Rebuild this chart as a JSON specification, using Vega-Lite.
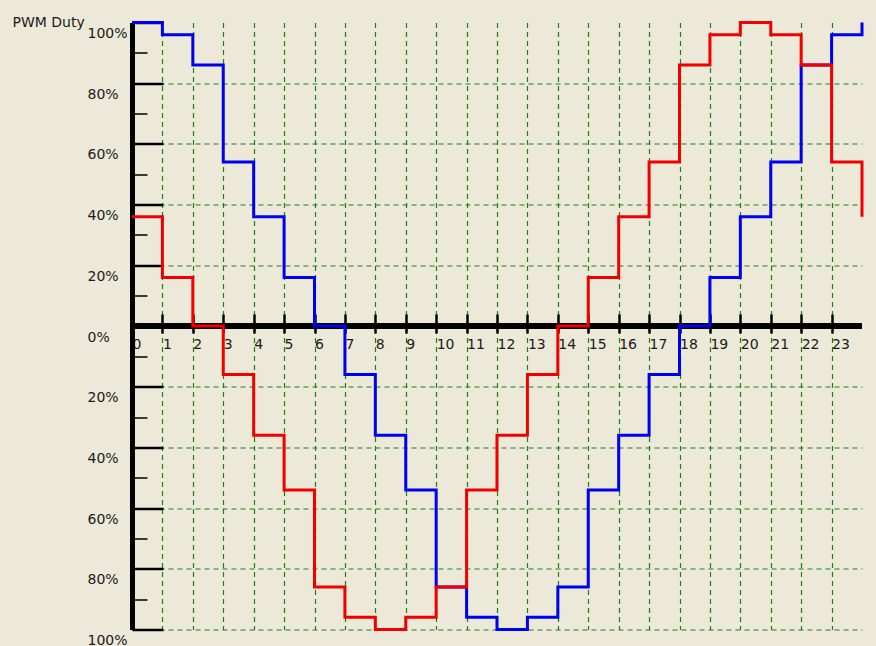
{
  "$schema": "https://vega.github.io/schema/vega-lite/v6.json",
  "autosize": {"type": "none"},
  "padding": {"left": 132, "top": 22.5, "right": 14, "bottom": 16.5},
  "width": 730,
  "height": 607,
  "background": "#ECE9D8",
  "config": {
    "view": {"stroke": null},
    "font": "DejaVu Sans",
    "axis": {"labelFont": "DejaVu Sans", "titleFont": "DejaVu Sans"}
  },
  "datasets": {
    "blue": [
      {"step": 0, "duty": 100}, {"step": 1, "duty": 96}, {"step": 2, "duty": 86}, {"step": 3, "duty": 54},
      {"step": 4, "duty": 36}, {"step": 5, "duty": 16}, {"step": 6, "duty": 0}, {"step": 7, "duty": -16},
      {"step": 8, "duty": -36}, {"step": 9, "duty": -54}, {"step": 10, "duty": -86}, {"step": 11, "duty": -96},
      {"step": 12, "duty": -100}, {"step": 13, "duty": -96}, {"step": 14, "duty": -86}, {"step": 15, "duty": -54},
      {"step": 16, "duty": -36}, {"step": 17, "duty": -16}, {"step": 18, "duty": 0}, {"step": 19, "duty": 16},
      {"step": 20, "duty": 36}, {"step": 21, "duty": 54}, {"step": 22, "duty": 86}, {"step": 23, "duty": 96},
      {"step": 24, "duty": 100}
    ],
    "red": [
      {"step": 0, "duty": 36}, {"step": 1, "duty": 16}, {"step": 2, "duty": 0}, {"step": 3, "duty": -16},
      {"step": 4, "duty": -36}, {"step": 5, "duty": -54}, {"step": 6, "duty": -86}, {"step": 7, "duty": -96},
      {"step": 8, "duty": -100}, {"step": 9, "duty": -96}, {"step": 10, "duty": -86}, {"step": 11, "duty": -54},
      {"step": 12, "duty": -36}, {"step": 13, "duty": -16}, {"step": 14, "duty": 0}, {"step": 15, "duty": 16},
      {"step": 16, "duty": 36}, {"step": 17, "duty": 54}, {"step": 18, "duty": 86}, {"step": 19, "duty": 96},
      {"step": 20, "duty": 100}, {"step": 21, "duty": 96}, {"step": 22, "duty": 86}, {"step": 23, "duty": 54},
      {"step": 24, "duty": 36}
    ]
  },
  "resolve": {"axis": {"x": "independent", "y": "independent"}},
  "layer": [
    {
      "data": {"name": "blue"},
      "mark": {"type": "rule", "color": "#000000", "strokeWidth": 5},
      "encoding": {
        "y": {"datum": 0, "type": "quantitative", "scale": {"domain": [-100, 100], "nice": false, "zero": false}, "axis": null}
      }
    },
    {
      "data": {"name": "blue"},
      "mark": {"type": "line", "interpolate": "step-after", "color": "#0000f0", "strokeWidth": 3},
      "encoding": {
        "x": {
          "field": "step", "type": "quantitative",
          "scale": {"domain": [0, 24], "nice": false, "zero": false},
          "axis": {
            "values": [0,1,2,3,4,5,6,7,8,9,10,11,12,13,14,15,16,17,18,19,20,21,22,23],
            "offset": -315.5,
            "domain": false,
            "ticks": true, "tickSize": 19, "tickWidth": 2.5, "tickColor": "#000000",
            "labelAlign": "left", "labelBaseline": "top", "labelPadding": 4, "labelOffset": 0,
            "labelFontSize": 14, "labelColor": "#1a1a1a", "labelFlush": false, "labelOverlap": false,
            "grid": true, "gridColor": "#1a801a", "gridDash": [5, 4], "gridWidth": 1.2,
            "gridOpacity": {"condition": {"test": "datum.value == 0", "value": 0}, "value": 1},
            "title": null
          }
        },
        "y": {
          "field": "duty", "type": "quantitative",
          "scale": {"domain": [-100, 100], "nice": false, "zero": false},
          "axis": {
            "orient": "left",
            "values": [-100, -80, -60, -40, -20, 0, 20, 40, 60, 80, 100],
            "domain": true, "domainWidth": 5, "domainColor": "#000000",
            "ticks": true, "tickSize": -31, "tickWidth": 2.5, "tickColor": "#000000",
            "labelAlign": "left", "labelBaseline": "top", "labelPadding": 76, "labelOffset": 4,
            "labelExpr": "abs(datum.value) + '%'",
            "labelFontSize": 14, "labelColor": "#1a1a1a", "labelFlush": false, "labelOverlap": false,
            "grid": true, "gridColor": "#1a801a", "gridDash": [5, 4], "gridWidth": 1.2,
            "gridOpacity": {"condition": {"test": "datum.value == 0 || datum.value == 100", "value": 0}, "value": 1},
            "title": "PWM Duty", "titleAngle": 0, "titleAlign": "left", "titleBaseline": "alphabetic",
            "titleX": -120, "titleY": 3.5, "titleFontSize": 14, "titleFontWeight": "normal", "titleColor": "#1a1a1a"
          }
        }
      }
    },
    {
      "data": {"name": "red"},
      "mark": {"type": "line", "interpolate": "step-after", "color": "#f00000", "strokeWidth": 3},
      "encoding": {
        "x": {
          "field": "step", "type": "quantitative",
          "scale": {"domain": [0, 24], "nice": false, "zero": false},
          "axis": null
        },
        "y": {
          "field": "duty", "type": "quantitative",
          "scale": {"domain": [-100, 100], "nice": false, "zero": false},
          "axis": {
            "orient": "left",
            "values": [-90, -70, -50, -30, -10, 10, 30, 50, 70, 90],
            "domain": false,
            "ticks": true, "tickSize": -15, "tickWidth": 1.5, "tickColor": "#000000",
            "labels": false, "grid": false, "title": null
          }
        }
      }
    }
  ]
}
